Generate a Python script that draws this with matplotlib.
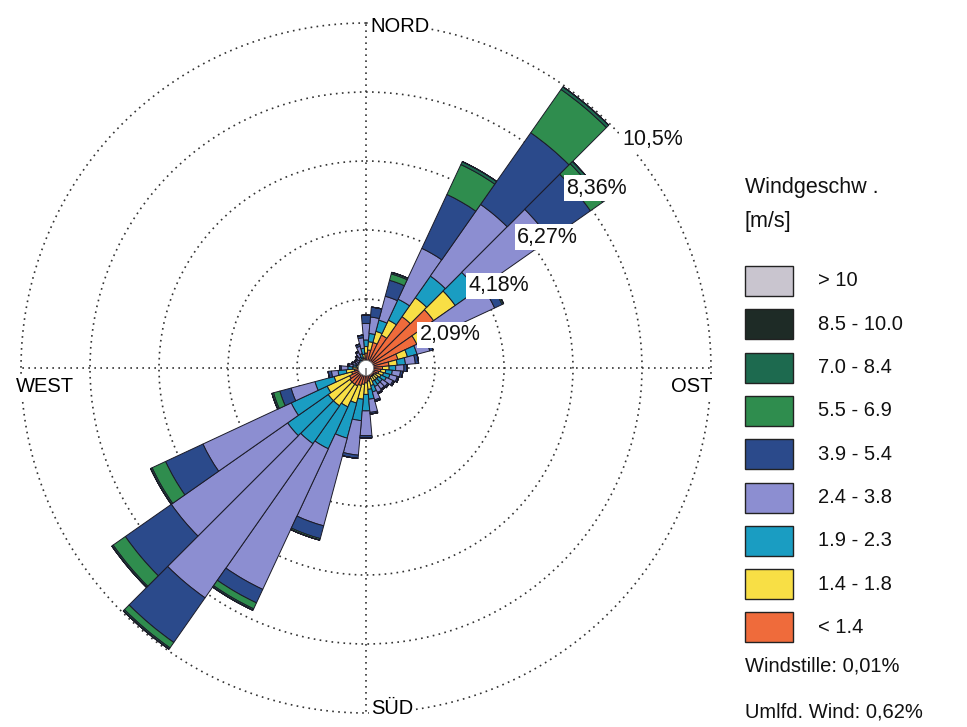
import numpy as np
import matplotlib.pyplot as plt
from matplotlib.patches import Rectangle

# sectors, degrees clockwise from north
directions = np.arange(0, 360, 10)

# frequency [%] per speed class and sector
f_lt14 = [0.45, 0.55, 0.80, 1.10, 1.90, 2.50, 1.70, 1.00, 0.70, 0.50, 0.45, 0.40,
          0.35, 0.30, 0.30, 0.30, 0.35, 0.40, 0.45, 0.50, 0.55, 0.60, 0.60, 0.60,
          0.55, 0.45, 0.35, 0.25, 0.20, 0.15, 0.12, 0.12, 0.15, 0.18, 0.22, 0.30]
f_14_18 = [0.20, 0.25, 0.35, 0.50, 0.70, 0.80, 0.35, 0.30, 0.25, 0.20, 0.15, 0.15,
           0.15, 0.15, 0.15, 0.15, 0.20, 0.25, 0.35, 0.45, 0.55, 0.70, 0.80, 0.80,
           0.75, 0.55, 0.25, 0.15, 0.10, 0.10, 0.08, 0.08, 0.07, 0.08, 0.10, 0.12]
f_19_23 = [0.20, 0.25, 0.35, 0.70, 0.80, 0.80, 0.40, 0.30, 0.25, 0.20, 0.20, 0.20,
           0.18, 0.15, 0.15, 0.17, 0.20, 0.30, 0.50, 0.65, 1.10, 1.40, 1.40, 1.50,
           1.20, 0.60, 0.25, 0.15, 0.10, 0.07, 0.06, 0.06, 0.08, 0.10, 0.13, 0.18]
f_24_38 = [0.50, 0.50, 0.75, 1.70, 2.65, 2.70, 1.85, 0.40, 0.30, 0.25, 0.25, 0.23,
           0.22, 0.20, 0.18, 0.20, 0.25, 0.40, 0.75, 1.05, 2.75, 4.70, 5.70, 4.30,
           2.95, 0.75, 0.20, 0.20, 0.10, 0.10, 0.10, 0.10, 0.12, 0.16, 0.23, 0.32]
f_39_54 = [0.25, 0.30, 0.50, 1.80, 2.65, 1.50, 0.25, 0.10, 0.10, 0.10, 0.07, 0.05,
           0.05, 0.05, 0.04, 0.04, 0.05, 0.05, 0.07, 0.10, 0.40, 0.45, 1.65, 1.70,
           1.25, 0.35, 0.10, 0.05, 0.05, 0.03, 0.04, 0.04, 0.04, 0.04, 0.07, 0.08]
f_55_69 = [0.00, 0.00, 0.20, 1.00, 1.60, 0.45, 0.05, 0.00, 0.00, 0.00, 0.00, 0.00,
           0.00, 0.00, 0.00, 0.00, 0.00, 0.00, 0.00, 0.00, 0.05, 0.20, 0.20, 0.45,
           0.45, 0.20, 0.00, 0.00, 0.00, 0.00, 0.00, 0.00, 0.00, 0.00, 0.00, 0.00]
f_70_84 = [0.00, 0.00, 0.05, 0.10, 0.10, 0.10, 0.00, 0.00, 0.00, 0.00, 0.00, 0.00,
           0.00, 0.00, 0.00, 0.00, 0.00, 0.00, 0.00, 0.00, 0.00, 0.05, 0.05, 0.05,
           0.05, 0.05, 0.00, 0.00, 0.00, 0.00, 0.00, 0.00, 0.00, 0.00, 0.00, 0.00]
f_85_100 = [0.0] * 36
f_gt10 = [0.0] * 36

class_labels = ['< 1.4', '1.4 - 1.8', '1.9 - 2.3', '2.4 - 3.8', '3.9 - 5.4',
                '5.5 - 6.9', '7.0 - 8.4', '8.5 - 10.0', '> 10']
class_colors = ['#ef6b3b', '#f8df45', '#1a9dc2', '#8c8ed1', '#2b4a8b',
                '#2f8d4e', '#1d6a4f', '#1e2b26', '#c9c5cf']
rings = [2.09, 4.18, 6.27, 8.36, 10.45]
ring_labels = ['2,09%', '4,18%', '6,27%', '8,36%', '10,5%']
calm_text = 'Windstille: 0,01%'
variable_text = 'Umlfd. Wind: 0,62%'

W, H = 967, 727
plt.rcParams['font.family'] = ['Liberation Sans', 'DejaVu Sans']
fig = plt.figure(figsize=(W / 100, H / 100), dpi=100)

def fx(x):
    return x / W

def fy(y):
    return 1 - y / H

dots = (0, (1, 2.6))

# polar axes: centre (366, 368) px, outer ring radius 345 px
cx, cy, rad = 366, 368, 345
ax = fig.add_axes([fx(cx - rad), fy(cy + rad), 2 * rad / W, 2 * rad / H],
                  projection='polar')
ax.set_theta_zero_location('N')
ax.set_theta_direction(-1)
ax.set_ylim(0, rings[-1])
ax.set_rgrids(rings[:-1], labels=[''] * (len(rings) - 1))
ax.set_thetagrids([0, 90, 180, 270], labels=[''] * 4)
ax.grid(True, color='#333333', linestyle=dots, linewidth=1.2)
ax.spines['polar'].set_visible(False)
ax.set_axisbelow(True)

# outer ring drawn like the inner ones
tt = np.linspace(0, 2 * np.pi, 721)
ax.plot(tt, np.full_like(tt, rings[-1]), color='#333333', linestyle=dots,
        linewidth=1.2, clip_on=False, zorder=1)

theta = np.deg2rad(directions)
width = np.deg2rad(10)
series = [f_lt14, f_14_18, f_19_23, f_24_38, f_39_54, f_55_69, f_70_84,
          f_85_100, f_gt10]
bottom = np.zeros(len(directions))
for vals, col in zip(series, class_colors):
    vals = np.asarray(vals)
    ax.bar(theta, vals, width=width, bottom=bottom, color=col,
           edgecolor='#1b1b28', linewidth=0.7, zorder=3)
    bottom = bottom + vals

# calm circle in the middle
ax.bar(0, 0.23, width=2 * np.pi, bottom=0, color='white',
       edgecolor='#777777', linewidth=0.6, zorder=6)

# ring labels along the NE diagonal
for r, lab in zip(rings, ring_labels):
    dx = 12 if r == rings[-1] else 5
    ax.annotate(lab, xy=(np.deg2rad(45), r), xytext=(dx, -5),
                textcoords='offset pixels', ha='left', va='top',
                fontsize=15.5, color='#111111', zorder=8,
                bbox=dict(boxstyle='square,pad=0.12', fc='white', ec='none'))

box = dict(boxstyle='square,pad=0.1', fc='white', ec='none')
fig.text(fx(370), fy(26), 'NORD', ha='left', va='center', fontsize=14.5,
         bbox=box)
fig.text(fx(16), fy(386), 'WEST', ha='left', va='center', fontsize=14.5,
         bbox=box)
fig.text(fx(713), fy(386), 'OST', ha='right', va='center', fontsize=14.5,
         bbox=box)
fig.text(fx(371), fy(709), 'SÜD', ha='left', va='center', fontsize=14.5,
         bbox=box)

# legend, highest class on top
fig.text(fx(745), fy(188), 'Windgeschw .', ha='left', va='center',
         fontsize=15.5, color='#111111')
fig.text(fx(745), fy(222), '[m/s]', ha='left', va='center',
         fontsize=15.5, color='#111111')
row0, step = 281, 43.3
for i, (lab, col) in enumerate(zip(class_labels[::-1], class_colors[::-1])):
    yc = row0 + i * step
    fig.patches.append(Rectangle((fx(745), fy(yc + 15)), 48 / W, 30 / H,
                                 transform=fig.transFigure, fc=col,
                                 ec='#222222', lw=1.0))
    fig.text(fx(818), fy(yc), lab, ha='left', va='center', fontsize=14.5,
             color='#111111')
fig.text(fx(745), fy(666), calm_text, ha='left', va='center', fontsize=14.5,
         color='#111111')
fig.text(fx(745), fy(712), variable_text, ha='left', va='center',
         fontsize=14.5, color='#111111')

fig.savefig('out.png', dpi=100, facecolor='white')
